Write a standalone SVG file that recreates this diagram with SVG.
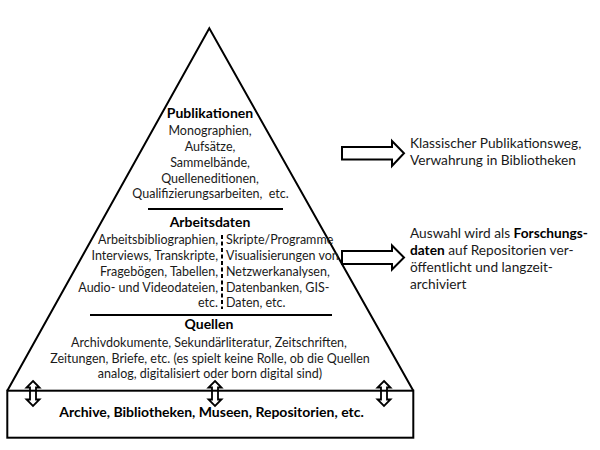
<svg xmlns="http://www.w3.org/2000/svg" width="600" height="450" viewBox="0 0 600 450">
<style>
text{font-family:Lato,"Liberation Sans",sans-serif;font-size:12.5px;fill:#1a1a1a}
.b{font-weight:bold;fill:#000;font-size:14px}
.c{text-anchor:middle}
.r{text-anchor:end}
.side{font-size:13.7px}
.side .b{font-size:13.7px}
.ln{stroke:#000;stroke-width:2;fill:none}
.ar{stroke:#000;stroke-width:2;fill:#fff}
.da{stroke:#000;stroke-width:1.8;fill:none}
</style>
<rect width="600" height="450" fill="#fff"/>
<g id="pyramid">
<polyline class="ln" points="7.3,390.7 209.3,28.3 413.3,390.7"/>
</g>
<g id="publikationen">
<text class="b c" x="210" y="118">Publikationen</text>
<text class="c" x="210" y="135">Monographien,</text>
<text class="c" x="210" y="151">Aufsätze,</text>
<text class="c" x="210" y="167">Sammelbände,</text>
<text class="c" x="210" y="183">Quelleneditionen,</text>
<text class="c" x="210.5" y="198">Qualifizierungsarbeiten,&#160; etc.</text>
<line class="ln" x1="148" y1="209" x2="283" y2="209"/>
</g>
<g id="arbeitsdaten">
<text class="b c" x="210" y="227">Arbeitsdaten</text>
<text class="r" x="218" y="244">Arbeitsbibliographien,</text>
<text class="r" x="218" y="260">Interviews, Transkripte,</text>
<text class="r" x="218" y="276">Fragebögen, Tabellen,</text>
<text class="r" x="218" y="292">Audio- und Videodateien,</text>
<text class="r" x="218" y="307">etc.</text>
<line x1="222" y1="235" x2="222" y2="309" stroke="#000" stroke-width="2" stroke-dasharray="4,2.5"/>
<text x="226" y="244">Skripte/Programme</text>
<text x="226" y="260">Visualisierungen von</text>
<text x="226" y="276">Netzwerkanalysen,</text>
<text x="226" y="292">Datenbanken, GIS-</text>
<text x="226" y="307">Daten, etc.</text>
<line class="ln" x1="90" y1="315" x2="332" y2="315"/>
</g>
<g id="quellen">
<text class="b c" x="209" y="329">Quellen</text>
<text class="c" x="209" y="346.5">Archivdokumente, Sekundärliteratur, Zeitschriften,</text>
<text class="c" x="210" y="362.5">Zeitungen, Briefe, etc. (es spielt keine Rolle, ob die Quellen</text>
<text class="c" x="210" y="378">analog, digitalisiert oder born digital sind)</text>
</g>
<g id="archive">
<rect class="ln" x="7.3" y="390.7" width="406" height="47"/>
<text class="b c" x="211.5" y="416.5">Archive, Bibliotheken, Museen, Repositorien, etc.</text>
</g>
<g id="text-publikationsweg" class="side">
<text class="side" x="410" y="148">Klassischer Publikationsweg,</text>
<text class="side" x="410" y="165">Verwahrung in Bibliotheken</text>
</g>
<g id="text-forschungsdaten">
<text class="side" x="410" y="238">Auswahl wird als <tspan class="b">Forschungs-</tspan></text>
<text class="side" x="410" y="255"><tspan class="b">daten</tspan> auf Repositorien ver-</text>
<text class="side" x="410" y="272">öffentlicht und langzeit-</text>
<text class="side" x="410" y="289">archiviert</text>
</g>
<g id="connectors">
<polygon class="ar" points="342,147 392,147 392,141 404,153.3 392,166 392,159.5 342,159.5"/>
<polygon class="ar" points="342,251 392,251 392,245.5 404,257.5 392,269.5 392,264 342,264"/>
<polygon class="da" points="33,381 39.5,387.5 36,387.5 36,399.5 39.5,399.5 33,406 26.5,399.5 30,399.5 30,387.5 26.5,387.5"/>
<polygon class="da" points="215,381 221.5,387.5 218,387.5 218,399.5 221.5,399.5 215,406 208.5,399.5 212,399.5 212,387.5 208.5,387.5"/>
<polygon class="da" points="384,381 390.5,387.5 387,387.5 387,399.5 390.5,399.5 384,406 377.5,399.5 381,399.5 381,387.5 377.5,387.5"/>
</g>
</svg>
